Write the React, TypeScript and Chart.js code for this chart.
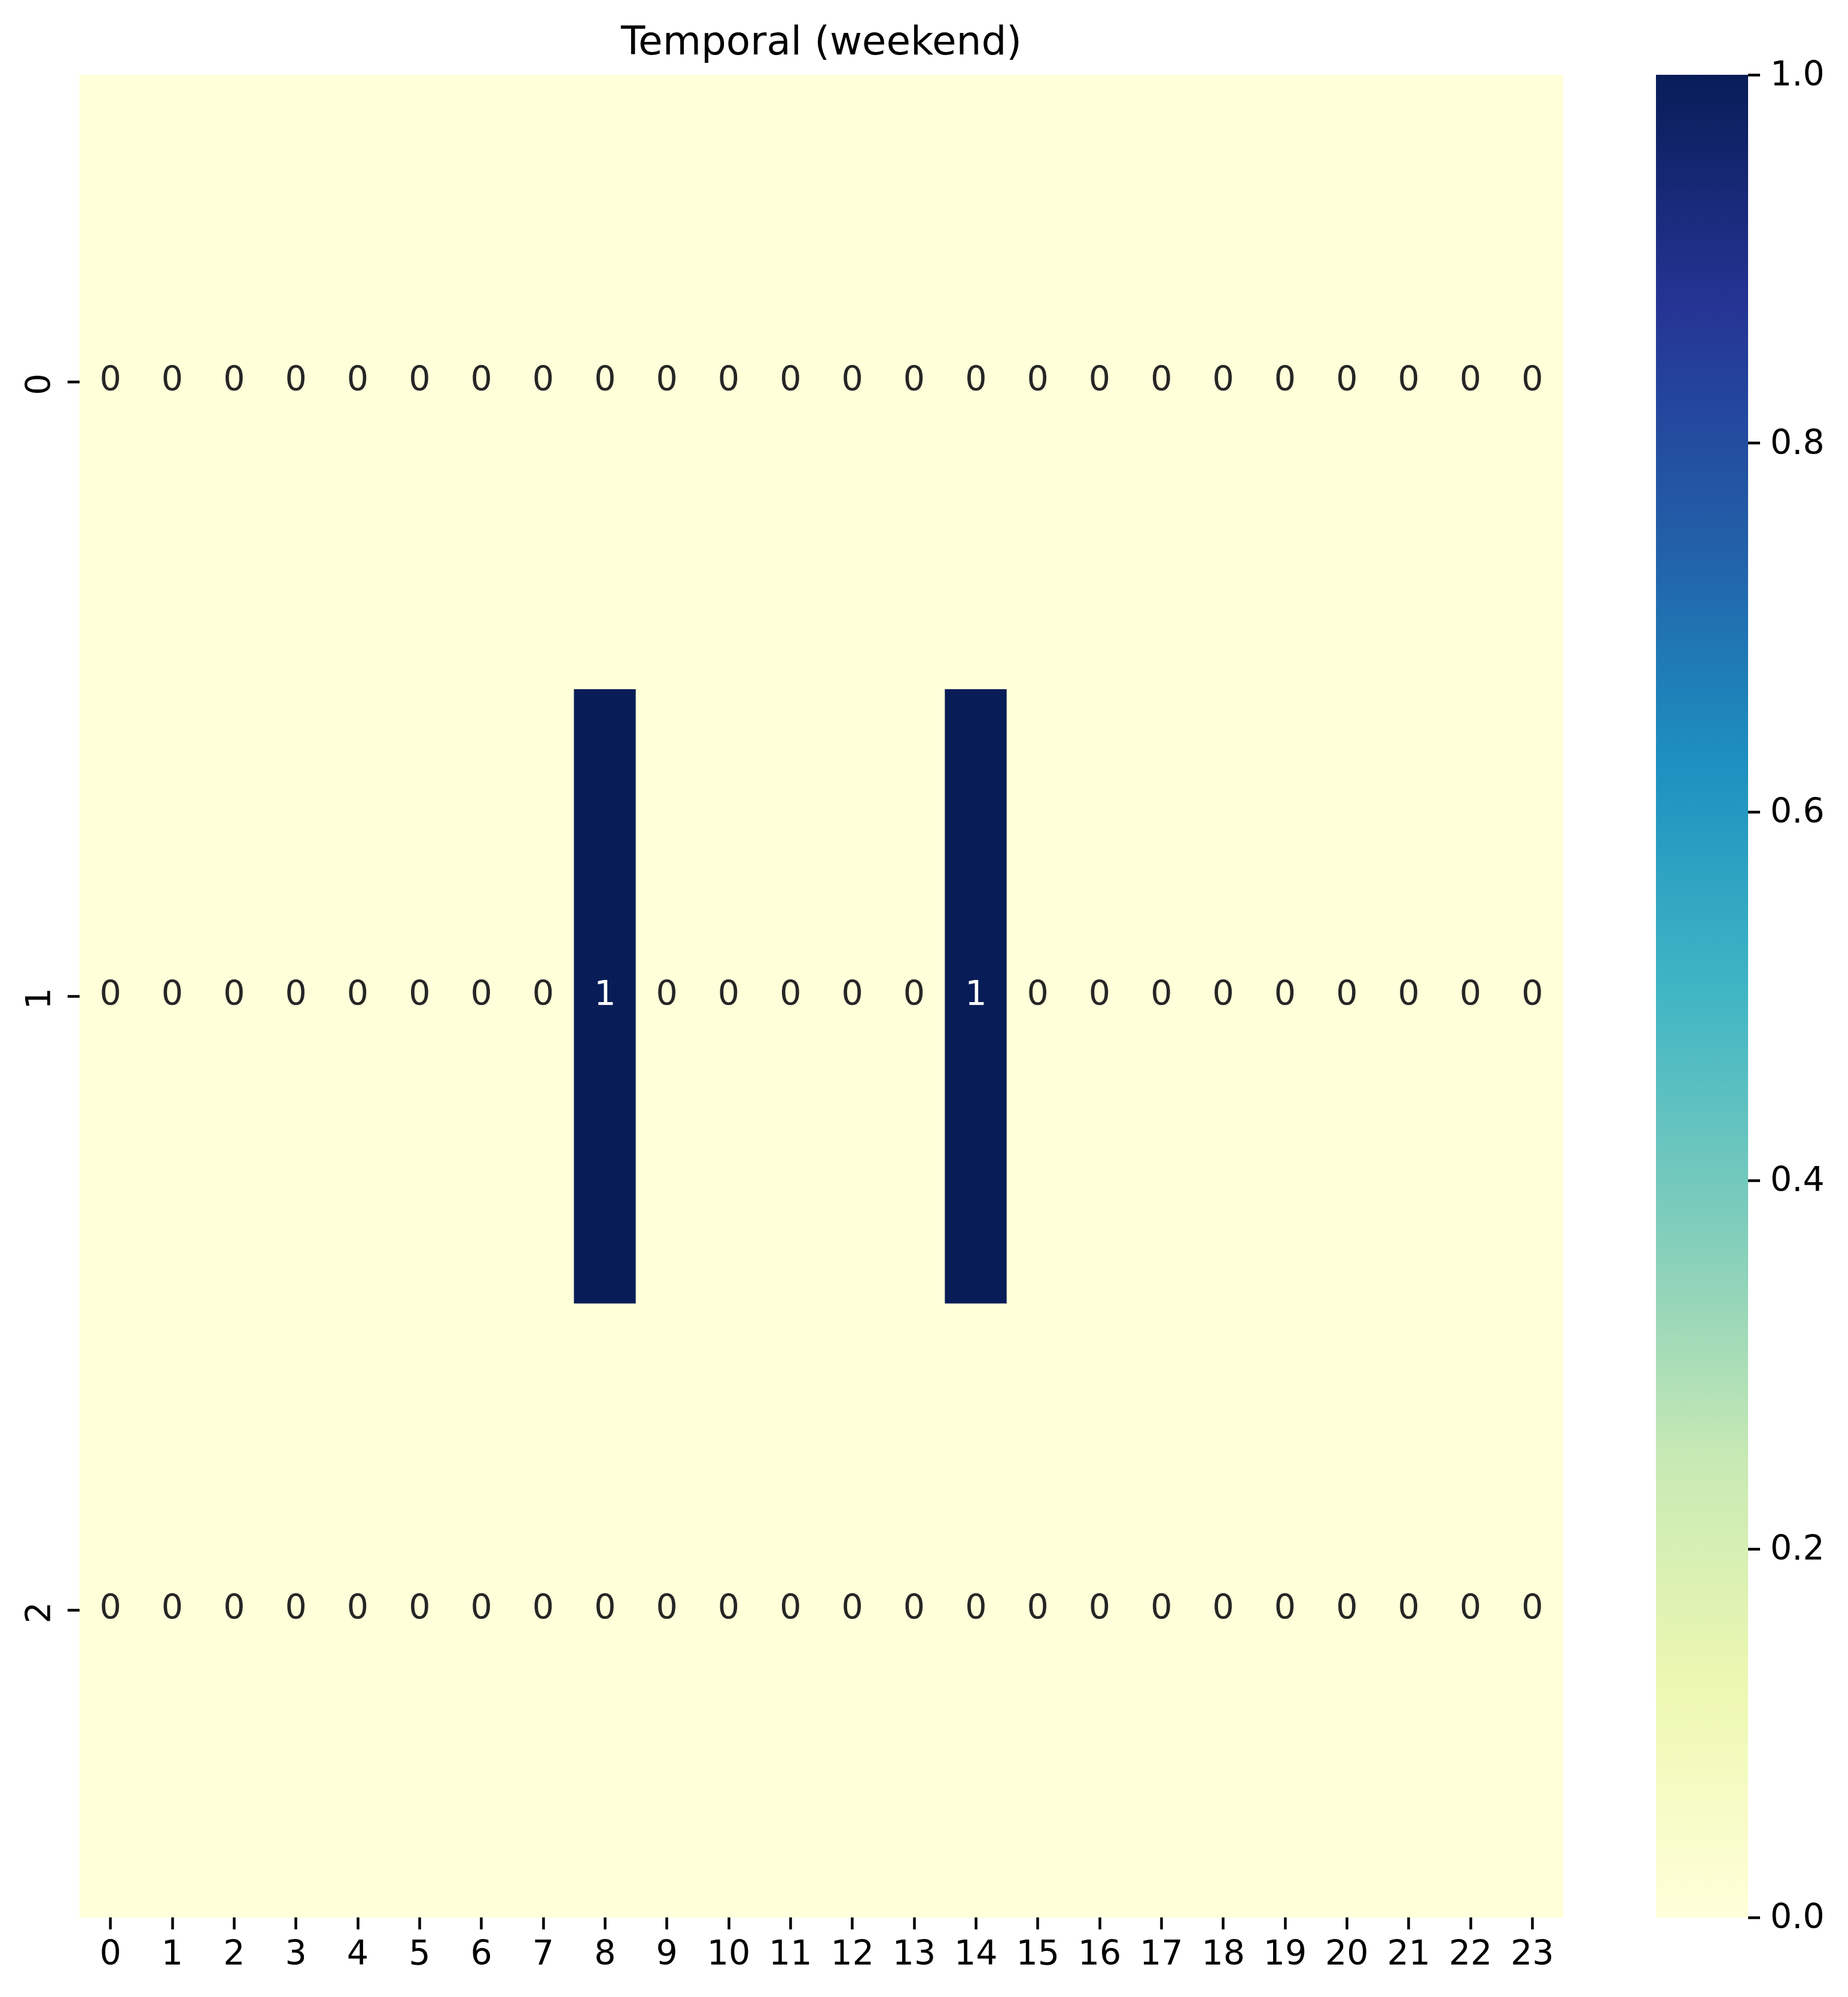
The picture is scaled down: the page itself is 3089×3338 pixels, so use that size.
import React, { useEffect, useRef } from 'react';
import { Chart, registerables } from 'chart.js';

Chart.register(...registerables);

// ---- data ----
const TITLE = 'Temporal (weekend)';
const HOURS = ['0', '1', '2', '3', '4', '5', '6', '7', '8', '9', '10', '11', '12', '13', '14', '15', '16', '17', '18', '19', '20', '21', '22', '23'];
const ROW_LABELS = ['0', '1', '2'];
const ROW0 = [0, 0, 0, 0, 0, 0, 0, 0, 0, 0, 0, 0, 0, 0, 0, 0, 0, 0, 0, 0, 0, 0, 0, 0];
const ROW1 = [0, 0, 0, 0, 0, 0, 0, 0, 1, 0, 0, 0, 0, 0, 1, 0, 0, 0, 0, 0, 0, 0, 0, 0];
const ROW2 = [0, 0, 0, 0, 0, 0, 0, 0, 0, 0, 0, 0, 0, 0, 0, 0, 0, 0, 0, 0, 0, 0, 0, 0];
const VALUES = [ROW0, ROW1, ROW2];
const CBAR_TICKS = [0, 0.2, 0.4, 0.6, 0.8, 1.0];
const VMIN = 0;
const VMAX = 1;

// YlGnBu colormap anchors
const YLGNBU = ['#ffffd9', '#edf8b1', '#c7e9b4', '#7fcdbb', '#41b6c4', '#1d91c0', '#225ea8', '#253494', '#081d58'];

// ---- layout / style ----
const FIG_W = 3089;
const FIG_H = 3338;
const PLOT_LEFT = 133;
const PLOT_TOP = 125;
const PLOT_RIGHT = 2613;
const PLOT_BOTTOM = 3205;
const CBAR_LEFT = 2768;
const CBAR_RIGHT = 2922;
const FONT = '"DejaVu Sans"';
const TICK_SIZE = 57;
const ANNOT_SIZE = 57;
const TITLE_SIZE = 66;
const TICK_LEN = 20;
const TICK_W = 4.5;

function hexToRgb(h: string) {
  const v = parseInt(h.slice(1), 16);
  return [(v >> 16) & 255, (v >> 8) & 255, v & 255];
}
function cmap(t: number) {
  const n = YLGNBU.length - 1;
  const p = Math.min(Math.max(t, 0), 1) * n;
  const i = Math.min(Math.floor(p), n - 1);
  const f = p - i;
  const a = hexToRgb(YLGNBU[i]);
  const b = hexToRgb(YLGNBU[i + 1]);
  const c = a.map((x, k) => Math.round(x + (b[k] - x) * f));
  return `rgb(${c[0]},${c[1]},${c[2]})`;
}
function norm(v: number) {
  return (v - VMIN) / (VMAX - VMIN);
}
function luminance(t: number) {
  const n = YLGNBU.length - 1;
  const p = Math.min(Math.max(t, 0), 1) * n;
  const i = Math.min(Math.floor(p), n - 1);
  const f = p - i;
  const a = hexToRgb(YLGNBU[i]);
  const b = hexToRgb(YLGNBU[i + 1]);
  const c = a.map((x, k) => (x + (b[k] - x) * f) / 255).map((x) => (x <= 0.03928 ? x / 12.92 : Math.pow((x + 0.055) / 1.055, 2.4)));
  return 0.2126 * c[0] + 0.7152 * c[1] + 0.0722 * c[2];
}

const heatPlugin = {
  id: 'heatExtras',
  afterDatasetsDraw(chart: any) {
    const ctx = chart.ctx;
    const xs = chart.scales.x;
    const ys = chart.scales.y;
    ctx.save();
    ctx.font = `${ANNOT_SIZE}px ${FONT}`;
    ctx.textAlign = 'center';
    ctx.textBaseline = 'middle';
    VALUES.forEach((row, r) => {
      const py = ys.getPixelForValue(r + 0.5);
      row.forEach((v, c) => {
        const px = xs.getPixelForValue(c);
        ctx.fillStyle = luminance(norm(v)) > 0.408 ? '#262626' : '#ffffff';
        ctx.fillText(String(v), px, py);
      });
    });
    ctx.restore();
  },
  afterDraw(chart: any) {
    const ctx = chart.ctx;
    const ys = chart.scales.y;
    const cb = chart.scales.cbar;
    ctx.save();
    // rotated y tick labels
    ctx.font = `${TICK_SIZE}px ${FONT}`;
    ctx.fillStyle = '#000';
    ctx.textAlign = 'center';
    ctx.textBaseline = 'middle';
    ys.ticks.forEach((t: any) => {
      const py = ys.getPixelForValue(t.value);
      ctx.save();
      ctx.translate(ys.right - 64, py + 4);
      ctx.rotate(-Math.PI / 2);
      ctx.fillText(String(t.label), 0, 0);
      ctx.restore();
    });
    // colorbar
    const y0 = cb.getPixelForValue(VMIN);
    const y1 = cb.getPixelForValue(VMAX);
    const g = ctx.createLinearGradient(0, y0, 0, y1);
    YLGNBU.forEach((c, i) => g.addColorStop(i / (YLGNBU.length - 1), c));
    ctx.fillStyle = g;
    const w = CBAR_RIGHT - CBAR_LEFT;
    ctx.fillRect(cb.left - w, y1, w, y0 - y1);
    ctx.restore();
  },
};

export default function App() {
  const ref = useRef<HTMLCanvasElement | null>(null);
  useEffect(() => {
    if (!ref.current) return;
    Chart.defaults.font.family = FONT;
    const datasets = VALUES.map((row, r) => ({
      label: ROW_LABELS[r],
      data: row.map(() => [r, r + 1]),
      backgroundColor: row.map((v) => cmap(norm(v))),
      borderWidth: 0,
      barPercentage: 1,
      categoryPercentage: 1,
      grouped: false,
      xAxisID: 'x',
      yAxisID: 'y',
    }));
    const chart = new Chart(ref.current, {
      type: 'bar',
      data: { labels: HOURS, datasets: datasets as any },
      options: {
        animation: false,
        responsive: false,
        devicePixelRatio: 1,
        layout: { padding: 0 },
        plugins: {
          legend: { display: false },
          tooltip: { enabled: false },
          title: {
            display: true,
            text: TITLE,
            fullSize: false,
            color: '#000',
            font: { family: FONT, size: TITLE_SIZE, weight: 'normal', lineHeight: 1.2 },
            padding: { top: 34, bottom: PLOT_TOP - 34 - TITLE_SIZE * 1.2 },
          },
        },
        scales: {
          x: {
            type: 'category',
            position: 'bottom',
            offset: true,
            grid: { display: true, drawOnChartArea: false, offset: false, tickLength: TICK_LEN, tickWidth: TICK_W, tickColor: '#000' },
            border: { display: false },
            ticks: { color: '#000', font: { size: TICK_SIZE, family: FONT }, padding: 10, maxRotation: 0, minRotation: 0, autoSkip: false },
            afterFit: (s: any) => { s.height = FIG_H - PLOT_BOTTOM; },
          },
          y: {
            type: 'linear',
            position: 'left',
            min: 0,
            max: ROW_LABELS.length,
            reverse: true,
            grid: { display: true, drawOnChartArea: false, tickLength: TICK_LEN, tickWidth: TICK_W, tickColor: '#000' },
            border: { display: false },
            afterBuildTicks: (s: any) => { s.ticks = ROW_LABELS.map((_, i) => ({ value: i + 0.5 })); },
            ticks: {
              color: 'rgba(0,0,0,0)',
              font: { size: TICK_SIZE, family: FONT },
              callback: (v: any) => ROW_LABELS[Math.floor(Number(v))],
            },
            afterFit: (s: any) => { s.width = PLOT_LEFT; },
          },
          spacer: {
            type: 'linear',
            position: 'right',
            weight: 0,
            grid: { display: false },
            border: { display: false },
            ticks: { display: false },
            afterFit: (s: any) => { s.width = CBAR_RIGHT - PLOT_RIGHT; },
          },
          cbar: {
            type: 'linear',
            position: 'right',
            weight: 10,
            min: VMIN,
            max: VMAX,
            grid: { display: true, drawOnChartArea: false, tickLength: TICK_LEN, tickWidth: TICK_W, tickColor: '#000' },
            border: { display: false },
            afterBuildTicks: (s: any) => { s.ticks = CBAR_TICKS.map((v) => ({ value: v })); },
            ticks: {
              color: '#000',
              font: { size: TICK_SIZE, family: FONT },
              padding: 17,
              labelOffset: 3,
              callback: (v: any) => Number(v).toFixed(1),
            },
            afterFit: (s: any) => { s.width = FIG_W - CBAR_RIGHT; },
          },
        },
      } as any,
      plugins: [heatPlugin],
    });
    return () => chart.destroy();
  }, []);
  return (
    <div style={{ position: 'absolute', left: 0, top: 0, width: FIG_W, height: FIG_H, background: '#fff' }}>
      <canvas ref={ref} width={FIG_W} height={FIG_H} style={{ width: FIG_W, height: FIG_H, display: 'block' }} />
    </div>
  );
}
